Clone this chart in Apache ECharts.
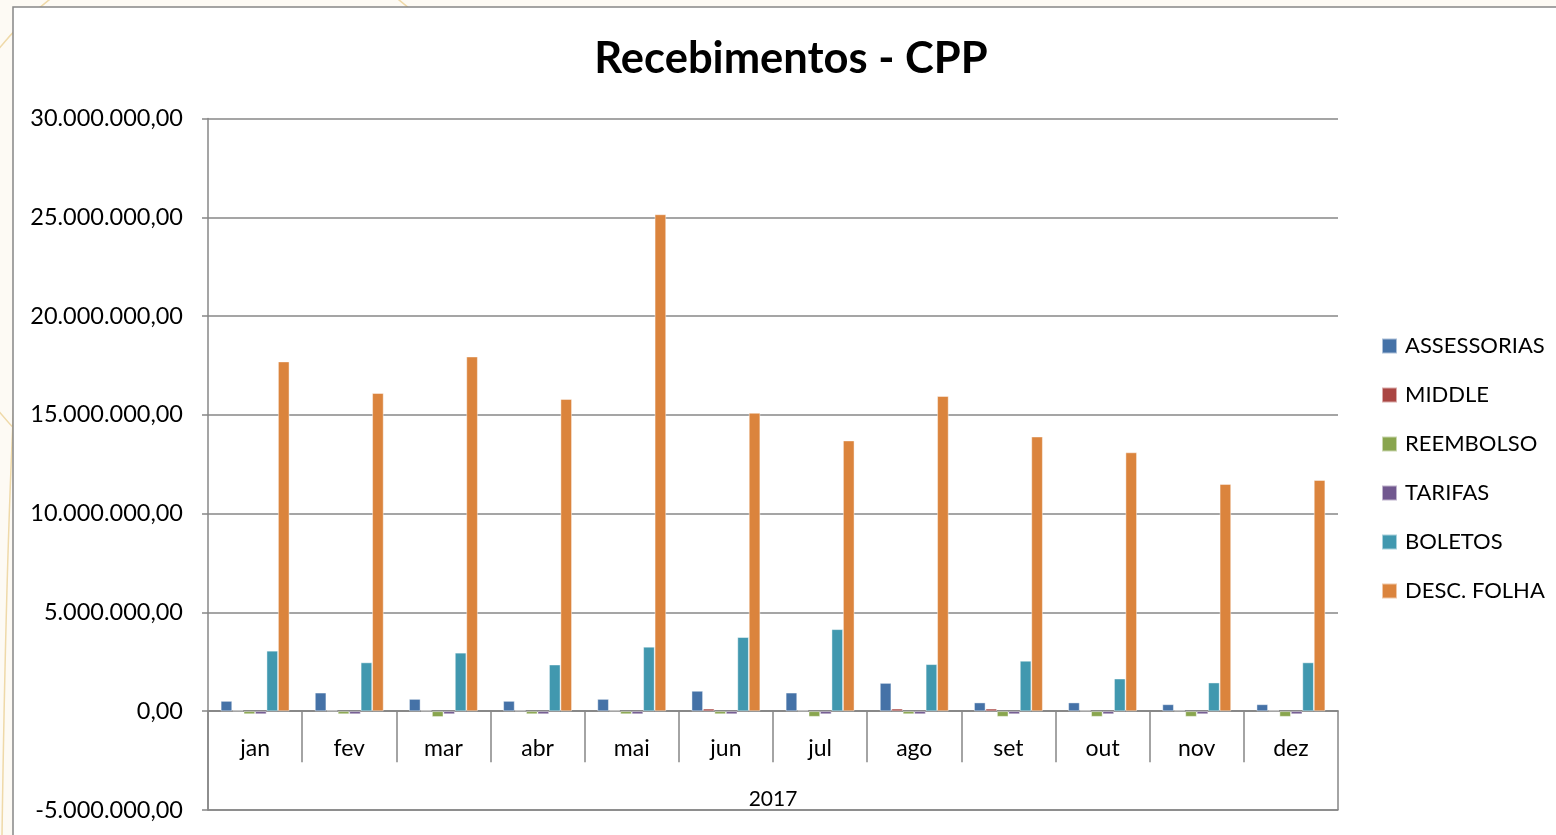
<!DOCTYPE html>
<html>
<head>
<meta charset="utf-8">
<script src="https://cdn.jsdelivr.net/npm/echarts@6/dist/echarts.min.js"></script>
<style>
html,body{margin:0;padding:0;background:#fdfaf4;}
#chart{width:1556px;height:835px;}
</style>
</head>
<body>
<div id="chart"></div>
<script>
const months = ['jan','fev','mar','abr','mai','jun','jul','ago','set','out','nov','dez'];
const yearLabel = ['2017'];
const seriesNames = ['ASSESSORIAS','MIDDLE','REEMBOLSO','TARIFAS','BOLETOS','DESC. FOLHA'];
const assessorias = [520000, 940000, 620000, 520000, 620000, 1030000, 940000, 1430000, 440000, 440000, 350000, 350000];
const middle = [40000, 40000, 40000, 40000, 40000, 130000, 40000, 130000, 130000, 40000, 40000, 40000];
const reembolso = [-150000, -150000, -290000, -150000, -150000, -150000, -280000, -150000, -280000, -280000, -280000, -280000];
const tarifas = [-150000, -150000, -150000, -150000, -150000, -150000, -150000, -150000, -150000, -150000, -150000, -150000];
const boletos = [3060000, 2470000, 2960000, 2360000, 3260000, 3750000, 4150000, 2380000, 2550000, 1650000, 1450000, 2470000];
const descFolha = [17700000, 16100000, 17950000, 15800000, 25150000, 15100000, 13700000, 15950000, 13900000, 13100000, 11500000, 11700000];
const colors = ['#4572A7','#AA4643','#89A54E','#71588F','#4198AF','#DB843D'];
const yMin = -5000000, yMax = 30000000, yStep = 5000000;

function fmt(v){
  const neg = v < 0;
  let s = Math.abs(Math.round(v)).toString();
  s = s.replace(/\B(?=(\d{3})+(?!\d))/g, '.');
  return (neg ? '-' : '') + s + ',00';
}

const allData = [assessorias, middle, reembolso, tarifas, boletos, descFolha];
const gray = '#878787';
const gTop = 118.5, gBottom = 25, H = 835;
const gHeight = H - gTop - gBottom;
const zeroY = gTop + gHeight * yMax / (yMax - yMin);

const chart = echarts.init(document.getElementById('chart'));
chart.setOption({
  backgroundColor: 'transparent',
  animation: false,
  color: colors,
  graphic: [
    { type: 'circle', z: -100, shape: { cx: 224, cy: 230, r: 289 }, style: { fill: 'none', stroke: '#efd9a8', lineWidth: 1.5 } },
    { type: 'bezierCurve', z: -100, shape: { x1: 14, y1: 400, x2: 2, y2: 835, cpx1: 6, cpy1: 560 }, style: { fill: 'none', stroke: '#efd9a8', lineWidth: 1.5 } },
    { type: 'rect', z: -90, shape: { x: 13, y: 7, width: 1560, height: 840 }, style: { fill: '#ffffff', stroke: gray, lineWidth: 1.5 } }
  ],
  title: {
    text: 'Recebimentos - CPP',
    left: 786,
    textAlign: 'center',
    top: 32,
    textStyle: { fontFamily: 'Lato', fontWeight: 'bold', fontSize: 43.5, color: '#000' }
  },
  legend: {
    orient: 'vertical',
    left: 1381,
    top: 335,
    padding: 0,
    itemWidth: 15,
    itemHeight: 15,
    itemGap: 27,
    icon: 'rect',
    data: seriesNames,
    textStyle: { fontFamily: 'Lato', fontSize: 22, color: '#000', padding: [0, 0, 0, 3] }
  },
  grid: [
    { left: 208, right: 218, top: gTop, bottom: gBottom, outerBoundsMode: 'none', containLabel: false },
    { left: 208, right: 218, top: zeroY, bottom: gBottom, outerBoundsMode: 'none', containLabel: false }
  ],
  xAxis: [
    {
      type: 'category',
      gridIndex: 0,
      data: months,
      axisLine: { onZero: true, lineStyle: { color: gray, width: 1.5 } },
      axisTick: { show: false },
      axisLabel: { show: false },
      splitLine: { show: false }
    },
    {
      type: 'category',
      gridIndex: 1,
      data: months,
      position: 'top',
      axisLine: { onZero: false, lineStyle: { color: gray, width: 1.5 } },
      axisTick: { show: true, inside: true, interval: 0, length: 51, lineStyle: { color: gray, width: 1.5 } },
      axisLabel: { inside: true, color: '#000', fontFamily: 'Lato', fontSize: 23, margin: 26, interval: 0 },
      splitLine: { show: false }
    },
    {
      type: 'category',
      gridIndex: 1,
      data: yearLabel,
      position: 'bottom',
      axisLine: { onZero: false, lineStyle: { color: gray, width: 1.5 } },
      axisTick: { show: true, inside: true, interval: 0, length: H - gBottom - zeroY, lineStyle: { color: gray, width: 1.5 } },
      axisLabel: { inside: true, color: '#000', fontFamily: 'Lato', fontSize: 21, margin: 0 },
      splitLine: { show: false }
    }
  ],
  yAxis: [
    {
      type: 'value',
      gridIndex: 0,
      min: yMin,
      max: yMax,
      interval: yStep,
      axisLine: { show: true, lineStyle: { color: gray, width: 1.5 } },
      axisTick: { show: true, length: 6, lineStyle: { color: gray, width: 1.5 } },
      axisLabel: { color: '#000', fontFamily: 'Lato', fontSize: 23.5, margin: 25, formatter: fmt },
      splitLine: { show: true, lineStyle: { color: gray, width: 1.5 } }
    },
    { type: 'value', gridIndex: 1, show: false }
  ],
  series: seriesNames.map((n, i) => ({
    name: n,
    type: 'bar',
    xAxisIndex: 0,
    yAxisIndex: 0,
    data: allData[i],
    barGap: '0%',
    barCategoryGap: '27%',
    itemStyle: { color: colors[i], borderColor: 'rgba(255,255,255,0.55)', borderWidth: 0.8 }
  }))
});
</script>
</body>
</html>
